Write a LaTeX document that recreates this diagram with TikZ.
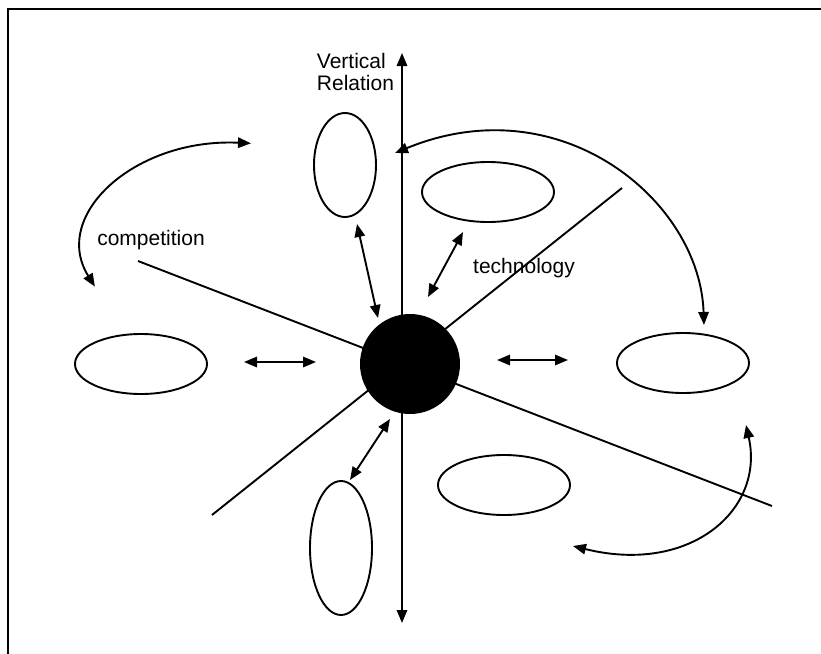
\documentclass[tikz,border=0pt]{standalone}
\usepackage{fontspec}
\setmainfont{Liberation Sans}
\usetikzlibrary{arrows.meta,shapes.geometric}
\begin{document}
\begin{tikzpicture}[x=0.5pt,y=-0.5pt,
  line width=0.95pt,
  hell/.style={draw,ellipse,inner sep=0pt,minimum width=66pt,minimum height=30pt},
  vell/.style={draw,ellipse,inner sep=0pt,minimum width=31pt},
  dbl/.style={{Triangle[length=6.5pt,width=5.2pt]}-{Triangle[length=6.5pt,width=5.2pt]}},
  lbl/.style={inner sep=0pt,font=\fontsize{10.5}{10.7}\selectfont}]
\useasboundingbox (0,0) rectangle (821,654);
% frame
\coordinate (fl) at (8,654);
\coordinate (ftl) at (8,9);
\coordinate (ftr) at (821,9);
\draw (fl) -- (ftl) -- (ftr);
% radial lines
\coordinate (sw) at (212,515);
\coordinate (ne) at (622,188);
\coordinate (nw) at (138,261);
\coordinate (se) at (772,506);
\draw (sw) -- (ne);
\draw (nw) -- (se);
% vertical axis
\coordinate (vtop) at (402,53);
\coordinate (vbot) at (402,623);
\draw[dbl] (vbot) -- (vtop);
% centre
\node[circle,fill=black,inner sep=0pt,minimum size=50pt] (c) at (410,364) {};
% ellipses
\node[hell] (L) at (141,364) {};
\node[hell] (R) at (683,363) {};
\node[hell] (UR) at (488,192) {};
\node[hell] (LR) at (504,485) {};
\node[vell,minimum height=52pt] (U) at (345,165) {};
\node[vell,minimum height=67pt] (D) at (341,548) {};
% short double arrows
\coordinate (a1) at (244,362); \coordinate (a2) at (316,362);
\coordinate (b1) at (497,360); \coordinate (b2) at (568,360);
\coordinate (c1) at (357,224); \coordinate (c2) at (378,318);
\coordinate (d1) at (463,232); \coordinate (d2) at (428,297);
\coordinate (e1) at (390,419); \coordinate (e2) at (350,480);
\draw[dbl] (a1) -- (a2);
\draw[dbl] (b1) -- (b2);
\draw[dbl] (c1) -- (c2);
\draw[dbl] (d1) -- (d2);
\draw[dbl] (e1) -- (e2);
% curved arrows
\coordinate (p1) at (94.9,286.6); \coordinate (p2) at (251,143.3);
\draw[dbl] (p1) .. controls (50.5,215.3) and (134.8,137.9) .. (p2);
\coordinate (q1) at (395,153); \coordinate (q2) at (704,325);
\draw[dbl] (q1) .. controls (560,85) and (700,200) .. (q2);
\coordinate (r1) at (746,425); \coordinate (r2) at (573,546);
\draw[dbl] (r1) .. controls (765,510) and (690,575) .. (r2);
% labels
\node[lbl,anchor=west,align=left] (vr) at (316,72) {Vertical\\Relation};
\node[lbl] (comp) at (151,240) {competition};
\node[lbl] (tech) at (524,268) {technology};
\end{tikzpicture}
\end{document}
